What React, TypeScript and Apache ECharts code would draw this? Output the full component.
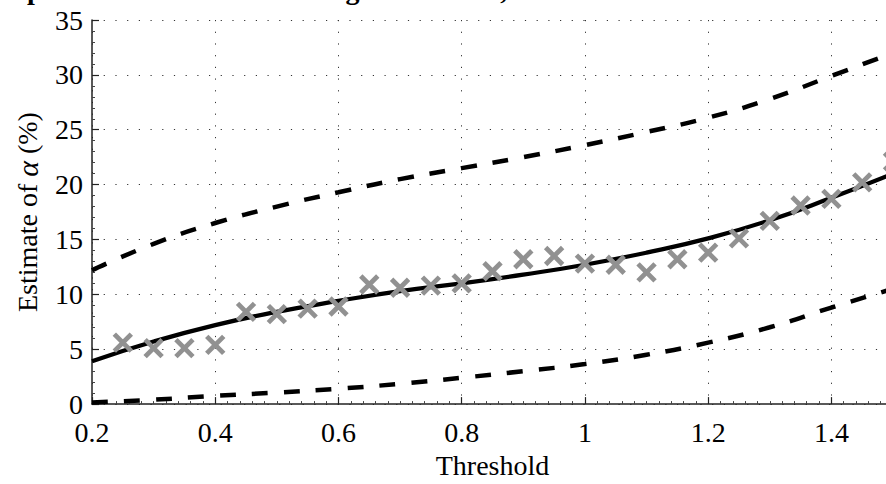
import React, { useEffect, useRef } from "react";
import * as echarts from "echarts";

// ---- data ----
const pointThresholds = [
  0.25, 0.3, 0.35, 0.4, 0.45, 0.5, 0.55, 0.6, 0.65, 0.7, 0.75, 0.8, 0.85, 0.9,
  0.95, 1.0, 1.05, 1.1, 1.15, 1.2, 1.25, 1.3, 1.35, 1.4, 1.45, 1.5,
];
const pointEstimates = [
  5.6, 5.1, 5.1, 5.4, 8.4, 8.2, 8.7, 8.9, 10.9, 10.6, 10.8, 11.0, 12.1, 13.2,
  13.5, 12.8, 12.7, 12.0, 13.2, 13.8, 15.1, 16.7, 18.1, 18.7, 20.2, 22.1,
];
const curveThresholds = [
  0.2, 0.3, 0.4, 0.5, 0.6, 0.7, 0.8, 0.9, 1.0, 1.1, 1.2, 1.3, 1.4, 1.5,
];
const fitValues = [
  3.9, 5.7, 7.2, 8.4, 9.4, 10.3, 11.0, 11.8, 12.7, 13.8, 15.1, 16.75, 18.8, 21.0,
];
const upperValues = [
  12.2, 14.6, 16.5, 18.0, 19.3, 20.5, 21.5, 22.5, 23.6, 24.8, 26.1, 27.8, 29.9, 32.0,
];
const lowerValues = [
  0.15, 0.4, 0.75, 1.05, 1.4, 1.85, 2.4, 3.0, 3.65, 4.5, 5.6, 7.0, 8.8, 10.5,
];
const xTickInterval = 0.2;
const yTickInterval = 5;
const titleText = "Spread of the estimates using all the data, MLE";

const FONT = '"Liberation Serif", "Times New Roman", serif';

const pairs = (xs: number[], ys: number[]) => xs.map((x, i) => [x, ys[i]]);

export default function App() {
  const ref = useRef<HTMLDivElement>(null);

  useEffect(() => {
    if (!ref.current) return;
    const chart = echarts.init(ref.current, undefined, { renderer: "svg" });
    const dashed = {
      type: "line" as const,
      smooth: 0.5,
      showSymbol: false,
      symbol: "none",
      lineStyle: { color: "#000", width: 4.5, type: [16, 16], cap: "butt" as const },
      z: 2,
    };
    chart.setOption({
      animation: false,
      backgroundColor: "#fff",
      grid: { left: 92, right: 7, top: 20, bottom: 70, containLabel: false },
      graphic: [
        {
          type: "text",
          x: 11.5,
          y: -11,
          silent: true,
          style: {
            text: titleText,
            fontFamily: FONT,
            fontWeight: "bold",
            fontSize: 28,
            fill: "#000",
            verticalAlign: "middle",
          },
        },
      ],
      xAxis: {
        type: "value",
        min: 0.2,
        max: 1.5,
        interval: xTickInterval,
        name: "Threshold",
        nameLocation: "middle",
        nameGap: 46,
        nameTextStyle: { fontFamily: FONT, fontSize: 28, color: "#000" },
        axisLine: { show: true, onZero: false, lineStyle: { color: "#222", width: 1.5 } },
        axisTick: { show: true, inside: true, length: 7, lineStyle: { color: "#222", width: 1.2 } },
        minorTick: { show: true, splitNumber: 10, length: 3, lineStyle: { color: "#444", width: 1 } },
        axisLabel: {
          show: true,
          showMaxLabel: false,
          margin: 14,
          fontFamily: FONT,
          fontSize: 28,
          color: "#000",
        },
        splitLine: { show: true, lineStyle: { color: "#333", width: 1, type: [1.2, 10.5] } },
      },
      yAxis: {
        type: "value",
        min: 0,
        max: 35,
        interval: yTickInterval,
        name: "Estimate of {a|α} (%)",
        nameLocation: "middle",
        nameGap: 50,
        nameRotate: 90,
        nameTextStyle: {
          fontFamily: FONT,
          fontSize: 28,
          color: "#000",
          rich: {
            a: { fontFamily: FONT, fontSize: 30, fontStyle: "italic", color: "#000" },
          },
        },
        axisLine: { show: true, lineStyle: { color: "#222", width: 1.5 } },
        axisTick: { show: true, inside: true, length: 7, lineStyle: { color: "#222", width: 1.2 } },
        minorTick: { show: true, splitNumber: 5, length: 3, lineStyle: { color: "#444", width: 1 } },
        axisLabel: { margin: 9, fontFamily: FONT, fontSize: 28, lineHeight: 19, color: "#000" },
        splitLine: { show: true, lineStyle: { color: "#333", width: 1, type: [1.2, 10.5] } },
      },
      series: [
        { ...dashed, name: "upper", data: pairs(curveThresholds, upperValues) },
        { ...dashed, name: "lower", data: pairs(curveThresholds, lowerValues) },
        {
          type: "line",
          name: "fit",
          smooth: 0.5,
          showSymbol: false,
          symbol: "none",
          lineStyle: { color: "#000", width: 4.2 },
          data: pairs(curveThresholds, fitValues),
          z: 3,
        },
        {
          type: "scatter",
          name: "estimates",
          clip: false,
          symbol: "path://M0,0L10,10M10,0L0,10",
          symbolSize: 17,
          itemStyle: { color: "transparent", borderColor: "#919191", borderWidth: 4.8, opacity: 1 },
          data: pairs(pointThresholds, pointEstimates),
          z: 4,
        },
      ],
    });
    return () => chart.dispose();
  }, []);

  return (
    <div
      style={{
        position: "fixed",
        left: 0,
        top: 0,
        width: 886,
        height: 484,
        overflow: "hidden",
        background: "#fff",
      }}
    >
      <div ref={ref} style={{ width: 900, height: 484 }} />
    </div>
  );
}
